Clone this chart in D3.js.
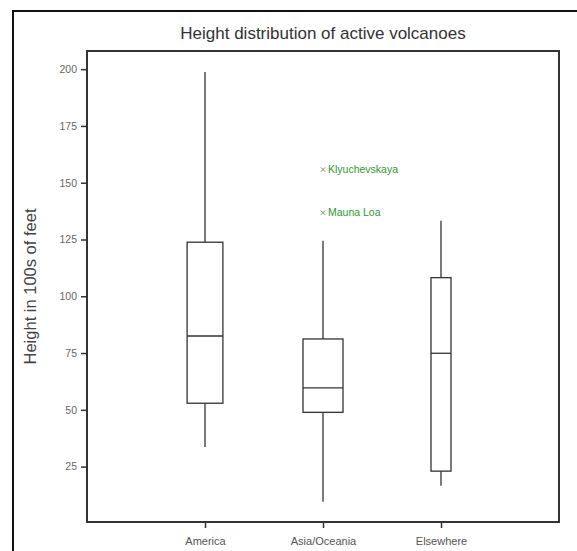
<!DOCTYPE html>
<html>
<head>
<meta charset="utf-8">
<script src="https://cdn.jsdelivr.net/npm/d3@7/dist/d3.min.js"></script>
<style>
  html, body { margin: 0; padding: 0; background: #fff; }
  svg { display: block; font-family: "Liberation Sans", Arial, sans-serif; }
</style>
</head>
<body>
<svg id="chart" width="577" height="551"></svg>
<script>
// Box-plot summaries (heights in hundreds of feet)
const categories   = ["America", "Asia/Oceania", "Elsewhere"];
const whiskerLow   = [33.6, 9.5, 16.6];
const q1           = [52.9, 48.9, 23.0];
const median       = [82.5, 59.7, 74.9];
const q3           = [123.8, 81.2, 108.2];
const whiskerHigh  = [198.7, 124.5, 133.3];
const groupCounts  = [32, 40, 10];   // box width grows with sqrt(n)

// Named outliers
const outlierNames  = ["Klyuchevskaya", "Mauna Loa"];
const outlierValues = [155.8, 136.8];
const outlierGroups = ["Asia/Oceania", "Asia/Oceania"];

const yTickValues = [25, 50, 75, 100, 125, 150, 175, 200];

const svg = d3.select("#chart");
const W = 577, H = 551;
const plot = { left: 87, right: 559, top: 51, bottom: 522 };

// Outer frame (runs off the right and bottom edges)
svg.append("rect")
  .attr("x", 13).attr("y", 11)
  .attr("width", W + 20).attr("height", H + 20)
  .attr("fill", "#fff").attr("stroke", "#111").attr("stroke-width", 2);

const y = d3.scaleLinear().domain([0.6, 208]).range([plot.bottom, plot.top]);
const x = d3.scalePoint().domain(categories).range([plot.left, plot.right]).padding(1);
const boxWidth = d3.scaleSqrt().domain([0, 40]).range([0, 40]);

// Title
svg.append("text")
  .attr("x", (plot.left + plot.right) / 2).attr("y", 39)
  .attr("text-anchor", "middle")
  .attr("font-size", 17).attr("fill", "#333")
  .text("Height distribution of active volcanoes");

// Y axis label
svg.append("text")
  .attr("transform", `translate(36,${(plot.top + plot.bottom) / 2}) rotate(-90)`)
  .attr("text-anchor", "middle")
  .attr("font-size", 16.5).attr("fill", "#444")
  .text("Height in 100s of feet");

// Axes
const yAxis = svg.append("g")
  .attr("transform", `translate(${plot.left},0)`)
  .call(d3.axisLeft(y).tickValues(yTickValues).tickSize(6).tickPadding(4).tickSizeOuter(0));
yAxis.select(".domain").remove();
yAxis.selectAll("line").attr("stroke", "#333").attr("stroke-width", 1.5);
yAxis.selectAll("text").attr("font-size", 10.5).attr("fill", "#666")
  .attr("font-family", "Liberation Sans, Arial, sans-serif");

const xAxis = svg.append("g")
  .attr("transform", `translate(0,${plot.bottom})`)
  .call(d3.axisBottom(x).tickSize(6).tickPadding(9).tickSizeOuter(0));
xAxis.select(".domain").remove();
xAxis.selectAll("line").attr("stroke", "#333").attr("stroke-width", 1.5);
xAxis.selectAll("text").attr("font-size", 11).attr("fill", "#555")
  .attr("font-family", "Liberation Sans, Arial, sans-serif");

// Plot frame
svg.append("rect")
  .attr("x", plot.left).attr("y", plot.top)
  .attr("width", plot.right - plot.left).attr("height", plot.bottom - plot.top)
  .attr("fill", "none").attr("stroke", "#333").attr("stroke-width", 2);

// Boxes
const groups = categories.map((c, i) => ({
  name: c, lo: whiskerLow[i], q1: q1[i], med: median[i], q3: q3[i], hi: whiskerHigh[i], n: groupCounts[i]
}));

const g = svg.append("g").attr("stroke", "#333").attr("stroke-width", 1.3).attr("fill", "none");
const box = g.selectAll("g.box").data(groups).join("g").attr("class", "box");

box.append("line")
  .attr("x1", d => x(d.name)).attr("x2", d => x(d.name))
  .attr("y1", d => y(d.hi)).attr("y2", d => y(d.q3));
box.append("line")
  .attr("x1", d => x(d.name)).attr("x2", d => x(d.name))
  .attr("y1", d => y(d.q1)).attr("y2", d => y(d.lo));
box.append("rect")
  .attr("x", d => x(d.name) - boxWidth(d.n) / 2)
  .attr("width", d => boxWidth(d.n))
  .attr("y", d => y(d.q3))
  .attr("height", d => y(d.q1) - y(d.q3))
  .attr("fill", "#fff");
box.append("line")
  .attr("x1", d => x(d.name) - boxWidth(d.n) / 2)
  .attr("x2", d => x(d.name) + boxWidth(d.n) / 2)
  .attr("y1", d => y(d.med)).attr("y2", d => y(d.med));

// Outliers with labels
const outliers = outlierNames.map((n, i) => ({ name: n, v: outlierValues[i], grp: outlierGroups[i] }));
const og = svg.selectAll("g.outlier").data(outliers).join("g")
  .attr("class", "outlier")
  .attr("transform", d => `translate(${x(d.grp)},${y(d.v)})`);
og.append("path")
  .attr("d", d3.symbol().type(d3.symbolX).size(14))
  .attr("stroke", "#5a8a5a").attr("stroke-width", 0.9).attr("fill", "none");
og.append("text")
  .attr("x", 5).attr("y", 3.6)
  .attr("font-size", 10.5).attr("fill", "#2e9a2e")
  .text(d => d.name);
</script>
</body>
</html>
